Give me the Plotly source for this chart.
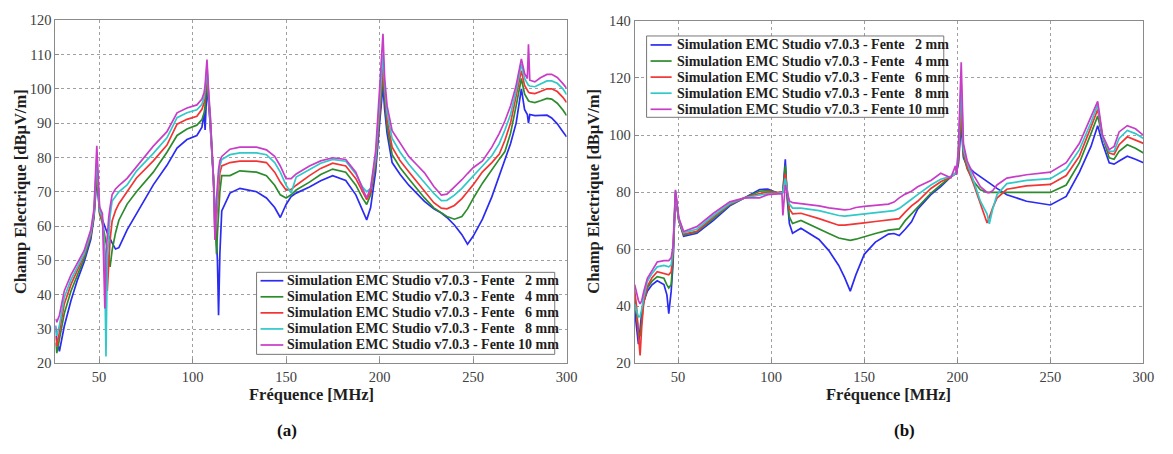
import plotly.graph_objects as go

# ---------------- data : chart (a) ----------------
freq_a = [26.7, 27.4, 28.8, 31.4, 35, 38.5, 42, 45.6, 47.3, 48.8,
          50.3, 51.8, 52.5, 53.1, 53.7, 54.4, 55.2, 55.9, 57, 58.8,
          60.6, 65, 70, 79, 86.3, 91.7, 97, 102.3, 105, 106.2,
          106.7, 107.1, 107.7, 108.5, 109.4, 111.2, 112, 112.8, 113.3, 113.9,
          114.6, 115.6, 120, 125.3, 134.2, 139.5, 143.9, 146.9, 150, 152.7,
          155.4, 162.5, 168.5, 174.9, 181.9, 187.3, 190.8, 193.1, 195.2, 197.9,
          200, 201.8, 202.7, 204, 206.7, 211, 215.6, 220, 224, 229,
          233, 236, 240, 244, 247, 250, 255, 260, 264, 267,
          270, 273, 275.8, 277.5, 279, 279.6, 280.3, 283, 286, 289.5,
          292, 295, 298, 300]

a_2mm = [31, 27, 23.5, 30.8, 38.3, 44.4, 49.5, 56.1, 62.6, 74,
         64, 61.5, 60.5, 59.5, 59, 58, 57, 56, 55.1, 53.3,
         53.7, 58.9, 63.6, 72, 77.7, 82.7, 85.2, 86.4, 88.8, 93,
         88, 95, 101, 96, 90, 73, 65, 58, 50, 34,
         52, 64.4, 69.6, 71, 70, 68.2, 65.4, 62.5, 66.3, 68.6,
         69.6, 71.4, 73.2, 74.7, 73.3, 69.1, 64.9, 61.8, 65.4, 76,
         90, 101, 94, 87, 78.5, 75, 71.9, 69.5, 67.2, 65,
         63.8, 62.5, 60.3, 57.5, 54.7, 57, 62, 68.5, 74.5, 79,
         84, 90, 100, 94, 92.5, 90, 92.5, 92.2, 92.2, 92.3,
         91.5, 89.8, 87.5, 86]
a_4mm = [26, 23, 27, 34.5, 41.1, 45.8, 50.5, 57, 63, 76,
         63.5, 60.8, 59, 57.5, 56, 53.3, 50, 48.1, 53, 58,
         61.7, 66.4, 70, 75.7, 81.5, 86.4, 88.3, 89.4, 91, 93,
         95, 99, 104, 97, 92.5, 73.8, 60, 51.8, 58, 65,
         70, 74.7, 74.7, 76.1, 75.7, 74.7, 71.9, 69.1, 68.2, 69.1,
         70.5, 72.8, 75, 76.6, 75.7, 71.9, 68.2, 66.3, 69.1, 78,
         92, 104, 97, 89, 80.8, 77, 73.8, 70.8, 68.2, 65.3,
         63.8, 62.8, 62, 62.8, 65, 68, 72.5, 76.5, 79.5, 81.7,
         87, 95, 103, 98.5, 97, 96.5, 96.3, 96, 96.5, 97.2,
         97, 95.8, 93.8, 92.2]
a_6mm = [28, 25, 29, 37.3, 43, 47.2, 51.4, 57.5, 63.5, 78,
         64, 61.7, 57, 52, 47, 41.1, 50, 56, 61.5, 64.5,
         66.5, 70.1, 74, 79, 83.6, 89.7, 91.1, 92, 94, 96,
         98, 101, 105.5, 98, 92.5, 73.8, 56, 62, 68, 72,
         75.5, 77.5, 78.5, 78.9, 78.9, 78.5, 75.7, 72.8, 70.5, 70.7,
         71.9, 74.7, 76.8, 78.3, 77.5, 73.8, 70, 67.7, 70, 79,
         93, 107, 99, 91, 83, 79, 75.8, 72.8, 70, 66.8,
         65.2, 65, 66, 68, 70, 72, 75.8, 78.5, 81, 85,
         90, 97.5, 105.3, 101, 99.5, 99, 98.8, 98.6, 99.2, 100,
         100, 99.2, 97.5, 96]
a_8mm = [30, 28, 31, 39.2, 44.4, 48.1, 51.9, 58, 64, 80,
         64.5, 62.6, 57, 45, 22, 50, 58.9, 63, 67.3, 68.8,
         70, 72, 76, 81.2, 85.7, 91.6, 93, 93.9, 95.5, 97.5,
         99.5, 102, 107, 99, 92.5, 73.8, 57, 66, 71, 74.5,
         77.5, 79.4, 80.8, 81.3, 81.3, 80.8, 78.5, 75.7, 71.9, 69.6,
         74.3, 76.6, 78.3, 79.4, 78.9, 75.2, 71.4, 70, 71, 80,
         96, 110, 101, 93, 85.5, 81.5, 78, 75.2, 72.8, 69.5,
         67.4, 67.5, 69, 71, 72.8, 74.5, 77.5, 80.5, 84, 88,
         92.5, 99.5, 107.2, 103, 101.5, 101, 100.8, 100.6, 101.4, 102.3,
         102.3, 101.6, 100, 98.3]
a_10mm = [33, 32, 34, 41.1, 45.8, 49.1, 52.8, 58.9, 65, 83.4,
          65.5, 63.6, 48, 36, 52, 58, 62.6, 65.5, 69.2, 70.8,
          71.8, 73.9, 77.3, 83.3, 87.5, 93, 94.4, 95.3, 97, 99,
          101, 103.5, 108.5, 100, 92.5, 73.8, 56, 68, 73, 76.5,
          79, 80.3, 82.4, 83, 83, 82.2, 80.3, 77.5, 73.8, 73.8,
          75.2, 77.5, 79, 79.9, 79.4, 75.7, 71, 68.2, 71, 82,
          100, 116, 103, 95, 87.8, 84, 80.3, 77.8, 75.5, 71.5,
          69, 69.3, 71.3, 73.5, 75.3, 77, 79, 83, 87, 90.6,
          95, 101, 108.7, 104.5, 103, 113, 102.5, 102, 103.2, 104.2,
          104.2, 103.3, 101.5, 100.2]

# ---------------- data : chart (b) ----------------
freq_b = [26.7, 27.7, 28.7, 29.6, 30.5, 31.5, 33.5, 36, 38.8, 42.4,
          44, 45, 46.3, 47.3, 48.6, 49.4, 50.4, 53, 60.1, 69,
          77.8, 85.8, 93.8, 98.2, 103.5, 105.8, 106.3, 107.6, 108.6, 109.8,
          111.5, 116, 125.7, 131, 136.3, 139.5, 142.5, 145.5, 150, 156,
          163, 166, 168.8, 172, 175.4, 178.7, 185.8, 191.1, 196.5, 199,
          199.6, 200.6, 202.1, 203.3, 205.3, 208.9, 212.4, 216, 217.2, 219,
          221.3, 226.6, 237.2, 250, 258.5, 265.6, 271.8, 275.4, 278, 281.6,
          284.2, 286.9, 291.3, 295.7, 300]

b_2mm = [38.6, 33, 26.7, 32, 38, 41.5, 45.3, 47.5, 48.9, 47.6,
         44, 37.4, 45.3, 55, 79.5, 75, 70, 64.5, 65.6, 70.1,
         75.2, 78, 80.9, 81.1, 79.7, 80, 80.2, 91.5, 78, 69,
         65.6, 67.3, 63.4, 59.5, 54.3, 50, 45.3, 51, 58.2, 62.5,
         65.3, 65.5, 64.8, 67, 69.6, 74, 79.1, 81.9, 85.3, 86.5,
         87, 90, 104, 92, 89.2, 87, 85.3, 83.6, 83, 82.3,
         81.3, 79.1, 76.8, 75.5, 78.5, 87, 96, 103.3, 97.1, 90.3,
         89.8, 90.9, 92.6, 91.5, 90.3]
b_4mm = [43.6, 37, 31, 29.5, 36, 41.5, 46.4, 48.8, 50.4, 49.8,
         47.5, 46.4, 47.6, 57, 79, 74.5, 70, 65, 66, 70.7,
         75.5, 78, 80.3, 80.5, 79.8, 80, 80.2, 89.3, 79, 71.3,
         69, 70.1, 67.3, 65.5, 63.9, 63.4, 63.1, 63.5, 64.4, 65.5,
         66.7, 67, 67.1, 70, 72.4, 74.6, 79.6, 82.5, 85.3, 86.5,
         87, 91, 108, 93, 88.1, 83.6, 80.8, 79.9, 79.9, 79.9,
         79.9, 80, 79.9, 79.9, 82.5, 90.3, 100.5, 106.7, 99.4, 92,
         91.5, 94.3, 96.6, 95.4, 93.7]
b_6mm = [45.3, 40, 30, 22.8, 33, 41, 47, 50, 52.1, 51.5,
         51.2, 51, 52.1, 59, 80, 75, 70, 65.3, 66.3, 71.3,
         75.8, 78, 79.5, 80, 79.8, 80, 80, 86.5, 80, 74.1,
         72.4, 72.6, 70.7, 69.5, 68.4, 68.4, 68.7, 69, 69.2, 69.7,
         70.2, 70.5, 70.7, 73, 75.2, 76.8, 81.3, 83.6, 85.3, 86.5,
         87, 92, 112, 94, 88.7, 82.5, 75.7, 69.2, 71.2, 74.5,
         77.9, 81, 82.2, 82.7, 85.8, 92.6, 102.8, 109, 99.4, 93.7,
         93.2, 96.6, 99.4, 98.2, 97.1]
b_8mm = [40.8, 38.5, 36.3, 36.5, 39, 43, 48.7, 51.5, 53.8, 54.3,
         54, 53.8, 54.5, 60, 80.5, 75.5, 70.5, 65.8, 67, 71.8,
         76, 78, 79.1, 79.5, 79.6, 79.8, 79.8, 84.8, 80, 75.8,
         74.4, 74.4, 73.5, 72.6, 71.8, 71.6, 71.8, 72.2, 72.5, 72.8,
         73.1, 73.5, 74.3, 76, 77.5, 79.1, 82.5, 84.5, 85.5, 86.5,
         87.5, 95, 118, 95, 90.3, 83.6, 76.8, 72.3, 68.9, 74,
         79.1, 83, 84.1, 84.7, 88.1, 94.9, 104.4, 110.6, 99.4, 94.3,
         94.3, 98.8, 101.6, 100.5, 98.8]
b_10mm = [47.6, 44.5, 42, 40.8, 42, 45, 49.8, 52.5, 55.5, 56,
          56, 56, 57, 61, 80.8, 76, 71, 66.2, 67.9, 72.6,
          76.6, 78, 78, 79.1, 79.5, 79.5, 71.8, 82.5, 80, 76.9,
          76.3, 76, 75.2, 74.5, 74, 73.8, 74, 74.6, 75, 75.3,
          75.8, 76.5, 78, 79.3, 80.3, 81.9, 84.1, 86.6, 85, 89.2,
          86, 96, 125.5, 97, 90.9, 85.8, 81.9, 79.9, 79.8, 80.5,
          82.5, 84.9, 86.1, 87, 90.3, 97.1, 106.1, 111.8, 100, 94.9,
          96, 101.1, 103.3, 102.2, 99.9]

series_labels = ["Simulation EMC Studio v7.0.3 - Fente \u00a0\u00a02 mm",
                 "Simulation EMC Studio v7.0.3 - Fente \u00a0\u00a04 mm",
                 "Simulation EMC Studio v7.0.3 - Fente \u00a0\u00a06 mm",
                 "Simulation EMC Studio v7.0.3 - Fente \u00a0\u00a08 mm",
                 "Simulation EMC Studio v7.0.3 - Fente 10 mm"]
x_ticks = [50, 100, 150, 200, 250, 300]
y_ticks_a = [20, 30, 40, 50, 60, 70, 80, 90, 100, 110, 120]
y_ticks_b = [20, 40, 60, 80, 100, 120, 140]
x_title = "Fréquence [MHz]"
y_title = "Champ Electrique [dBµV/m]"
captions = ["(a)", "(b)"]

# ---------------- styling ----------------
W, H = 1173, 454
colors = ["#2b2bf2", "#2c8c2c", "#f23434", "#30c8c8", "#c83cc8"]
SERIF = "Liberation Serif, Times New Roman, serif"
LW = 1.7


def px(x):
    return x / W


def py(y):
    return 1 - y / H


fig = go.Figure()
series_a = [a_2mm, a_4mm, a_6mm, a_8mm, a_10mm]
series_b = [b_2mm, b_4mm, b_6mm, b_8mm, b_10mm]
for lab, col, ys in zip(series_labels, colors, series_a):
    fig.add_trace(go.Scatter(x=freq_a, y=ys, mode="lines", name=lab,
                             line=dict(color=col, width=LW),
                             xaxis="x", yaxis="y", showlegend=False))
for lab, col, ys in zip(series_labels, colors, series_b):
    fig.add_trace(go.Scatter(x=freq_b, y=ys, mode="lines", name=lab,
                             line=dict(color=col, width=LW),
                             xaxis="x2", yaxis="y2", showlegend=False))

axis_common = dict(showgrid=True, gridcolor="#a0a0a0", griddash="dot", gridwidth=1,
                   showline=True, linecolor="#8a8a8a", linewidth=1, mirror=True,
                   ticks="inside", ticklen=4, tickcolor="#8a8a8a",
                   zeroline=False, tickfont=dict(family=SERIF, size=14.5, color="#404040"))

ybot = py(368.3)
fig.update_layout(
    width=W, height=H, autosize=False,
    margin=dict(l=0, r=0, t=0, b=0),
    paper_bgcolor="white", plot_bgcolor="white",
    xaxis=dict(domain=[px(56), px(572)], range=[26.7, 300], tickvals=x_ticks,
               anchor="y", **axis_common),
    yaxis=dict(domain=[ybot, py(12.6)], range=[20, 120], tickvals=y_ticks_a,
               anchor="x", **axis_common),
    xaxis2=dict(domain=[px(640.7), px(1154.3)], range=[26.7, 300], tickvals=x_ticks,
                anchor="y2", **axis_common),
    yaxis2=dict(domain=[ybot, py(13.4)], range=[20, 140], tickvals=y_ticks_b,
                anchor="x2", **axis_common),
    showlegend=False,
)

title_font = dict(family=SERIF, size=16.5, color="#1e1e1e", weight="bold")
ann = []
# axis titles
for cx in (314, 897):
    ann.append(dict(x=px(cx), y=py(401), xref="paper", yref="paper", text=x_title,
                    showarrow=False, font=title_font, xanchor="center", yanchor="middle"))
for cx in (20, 599):
    ann.append(dict(x=px(cx), y=py(190), xref="paper", yref="paper", text=y_title,
                    textangle=-90, showarrow=False, font=title_font,
                    xanchor="center", yanchor="middle"))
# captions
for cx, cap in zip((290, 913), captions):
    ann.append(dict(x=px(cx), y=py(438), xref="paper", yref="paper", text=cap,
                    showarrow=False, font=dict(family=SERIF, size=17, color="#111", weight="bold"),
                    xanchor="center", yanchor="middle"))

shapes = []
legend_specs = [
    # box x0, x1, y0, y1, line x0, x1, text x, first row y, row step
    (259, 560, 274, 359, 263, 286, 288, 282.7, 16.65),
    (652.7, 952.7, 29, 113.3, 656.7, 678, 681.7, 38.3, 16.67),
]
for (bx0, bx1, by0, by1, lx0, lx1, tx, ry0, step) in legend_specs:
    shapes.append(dict(type="rect", xref="paper", yref="paper",
                       x0=px(bx0), x1=px(bx1), y0=py(by1), y1=py(by0),
                       fillcolor="white", line=dict(color="#777777", width=1), layer="above"))
    for i, (lab, col) in enumerate(zip(series_labels, colors)):
        ry = ry0 + i * step
        shapes.append(dict(type="line", xref="paper", yref="paper",
                           x0=px(lx0), x1=px(lx1), y0=py(ry), y1=py(ry),
                           line=dict(color=col, width=LW), layer="above"))
        ann.append(dict(x=px(tx), y=py(ry), xref="paper", yref="paper", text=lab,
                        showarrow=False, xanchor="left", yanchor="middle",
                        font=dict(family=SERIF, size=14, color="#1e1e1e", weight="bold")))

fig.update_layout(annotations=ann, shapes=shapes)

fig.write_html("out.html",
               config={"displayModeBar": False},
               post_script="document.body.style.margin='0';document.body.style.overflow='hidden';")
